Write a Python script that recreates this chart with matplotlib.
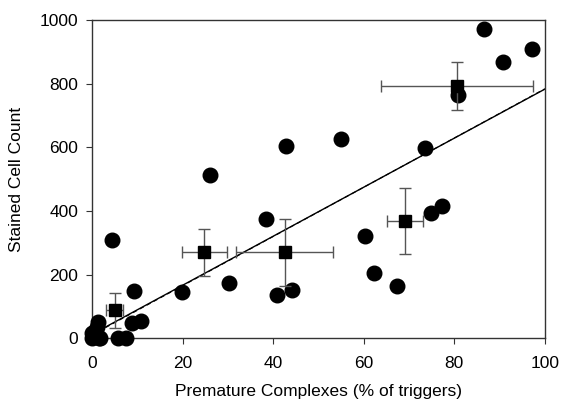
import matplotlib
matplotlib.use("Agg")
import matplotlib.pyplot as plt
import numpy as np

plt.rcParams['font.family'] = ['Liberation Sans', 'DejaVu Sans']

# individual observations
pts_x = [0.0, 0.0, 0.3, 1.0, 1.3, 1.5, 1.8, 0.5,
         4.4, 5.7, 7.5, 9.2, 8.8, 10.8, 19.8, 26.0, 30.2, 38.4, 40.8, 42.8,
         44.2, 55.0, 60.3, 62.3, 67.3, 73.5, 74.8, 77.3, 80.8, 86.5, 90.7, 97.1]
pts_y = [0, 15, 5, 35, 50, 0, 0, 20,
         308, 0, 0, 148, 47, 55, 145, 513, 173, 374, 135, 604,
         151, 626, 321, 204, 164, 597, 393, 415, 764, 972, 868, 909]

# group means with error bars
mean_x = [5.0, 24.8, 42.6, 69.1, 80.6]
mean_y = [88, 270, 270, 368, 792]
xerr = [1.8, 5.0, 10.7, 4.0, 16.7]
yerr = [55, 73, 105, 104, 75]

# regression lines
fit_x = [0, 100]
fit_slope, fit_icpt = 7.71, 12
fit2_slope, fit2_icpt = 7.74, 10

fig = plt.figure(figsize=(5.61, 4.04), dpi=100)
ax = fig.add_axes([0.164, 0.163, 0.807, 0.787])

ax.plot(fit_x, [fit_icpt + fit_slope * v for v in fit_x], color='black', lw=1.0, zorder=2)
ax.plot(fit_x, [fit2_icpt + fit2_slope * v for v in fit_x], color='black', lw=0.8,
        ls=(0, (4, 3)), zorder=2)

ax.scatter(pts_x, pts_y, s=110, color='black', marker='o', zorder=3, clip_on=False)
ax.errorbar(mean_x, mean_y, xerr=xerr, yerr=yerr, fmt='s', color='black',
            ms=9, ecolor='#555555', elinewidth=1.0, capsize=4, capthick=1.0, zorder=4)

ax.set_xlim(0, 100)
ax.set_ylim(0, 1000)
ax.set_xticks([0, 20, 40, 60, 80, 100])
ax.set_yticks([0, 200, 400, 600, 800, 1000])
ax.tick_params(direction='out', length=4, labelsize=12.5, color='#333333')
ax.tick_params(axis='x', pad=9)
ax.tick_params(axis='y', pad=6)
for s in ax.spines.values():
    s.set_color('#333333')
    s.set_linewidth(1.0)
ax.set_xlabel('Premature Complexes (% of triggers)', fontsize=12.5, labelpad=9)
ax.set_ylabel('Stained Cell Count', fontsize=12.5, labelpad=11)

fig.savefig('out.png', dpi=100)
